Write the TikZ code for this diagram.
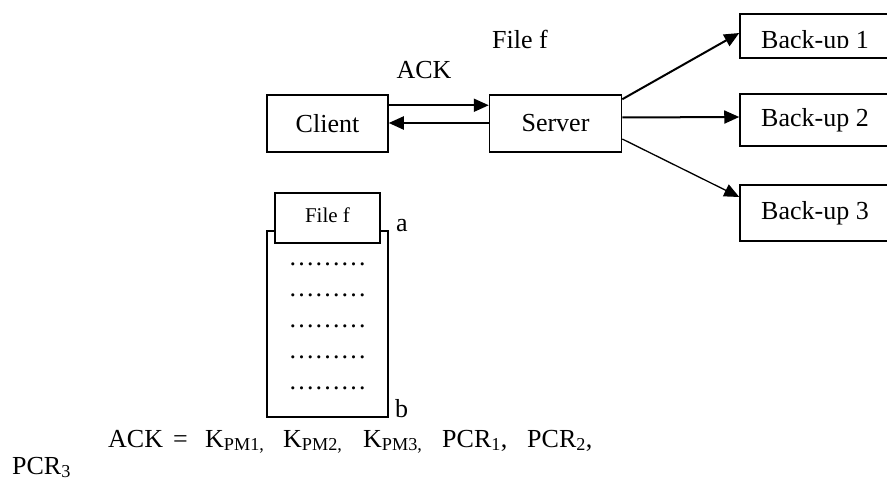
\documentclass[tikz,border=0pt]{standalone}
\usepackage{fontspec}
\setmainfont{Liberation Serif}
\usetikzlibrary{arrows.meta,positioning}

\tikzset{
  txt/.style={inner sep=0pt, font=\fontsize{26}{30}\selectfont},
  box/.style={draw, line width=1.5pt, fill=white, inner sep=0pt,
              font=\fontsize{26}{30}\selectfont},
  arr/.style={line width=2pt, -{Triangle[length=15pt,width=13pt]}}
}

\begin{document}
\begin{tikzpicture}[x=1pt, y=-1pt]
  \useasboundingbox (0,0) rectangle (887,481);

  % client / server
  \node (client) [box, minimum width=121pt, minimum height=57pt] at (327.5,123.5) {Client};
  \node (server) [box, minimum width=132pt, minimum height=57pt, right=100pt of client] {Server};

  % back-up servers (run off the right edge)
  \node (b1) [box, minimum width=150pt, minimum height=44pt] at (815,36) {};
  \node (b2) [box, minimum width=150pt, minimum height=52pt] at (815,120) {Back-up 2};
  \node (b3) [box, minimum width=150pt, minimum height=56pt] at (815,213) {Back-up 3};
  \begin{scope}
    \clip (741,15) rectangle (890,48);
    \node (b1txt) [txt, anchor=base] at (815,49) {Back-up 1};
  \end{scope}

  \node (ack) [txt, anchor=base] at (424,79) {ACK};
  \node (filef) [txt, anchor=base] at (520,49) {File f};

  \begin{scope}
    \path[arr] ([yshift=-11pt]client.north east) edge ([yshift=-11pt]server.north west);
    \path[arr] ([yshift=0.5pt]server.west) edge ([yshift=0.5pt]client.east);
    \path[arr] ([yshift=-5pt]server.north east) edge ([yshift=3pt]b1.west);
    \path[arr] ([yshift=6pt]server.east) edge ([yshift=3pt]b2.west);
    \path[arr, line width=1.3pt] ([yshift=-15.5pt]server.east) edge ([yshift=16pt]b3.west);
  \end{scope}

  % file f on its stack
  \node (stack) [box, minimum width=121pt, minimum height=186pt] at (327.5,324) {};
  \node (tab) [box, minimum width=105pt, minimum height=50pt, text depth=6pt,
               font=\fontsize{21}{25}\selectfont] at (327.5,218) {File f};
  \foreach \r in {0,...,4}
    \node (dots\r) [txt, anchor=base] at (327.5,266+30.75*\r) {………};
  \node (a) [txt, anchor=base west] at (396,232) {a};
  \node (b) [txt, anchor=base west] at (395,417) {b};

  % ACK contents
  \foreach \xpos/\term [count=\i] in {108/ACK, 173/{=},
      205/{K\textsubscript{PM1,}}, 283/{K\textsubscript{PM2,}}, 363/{K\textsubscript{PM3,}},
      442/{PCR\textsubscript{1},}, 527/{PCR\textsubscript{2},}}
    \node (term\i) [txt, anchor=base west] at (\xpos,447) {\term};
  \node (pcr3) [txt, anchor=base west] at (12,474) {PCR\textsubscript{3}};
\end{tikzpicture}
\end{document}
